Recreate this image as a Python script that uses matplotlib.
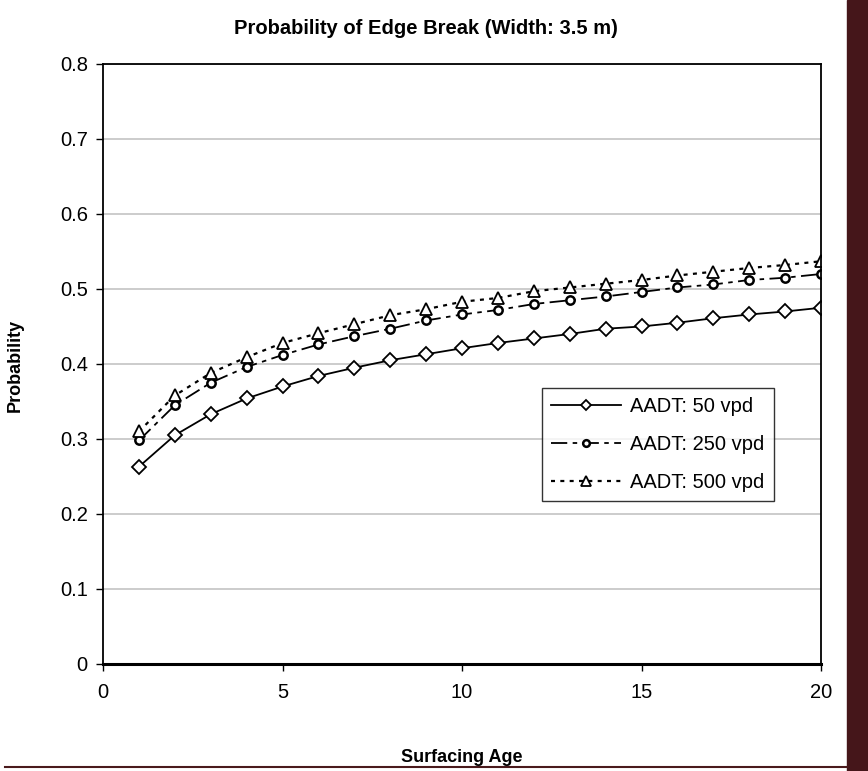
import numpy as np
import matplotlib
matplotlib.use('Agg')
import matplotlib.pyplot as plt
from matplotlib.patches import Rectangle
from matplotlib.lines import Line2D

plt.rcParams['font.family'] = ['Liberation Sans', 'DejaVu Sans']

age = list(range(1, 21))
aadt_50 = [0.263, 0.305, 0.333, 0.354, 0.370, 0.384, 0.395, 0.405, 0.413, 0.421,
           0.428, 0.434, 0.440, 0.447, 0.450, 0.455, 0.461, 0.466, 0.470, 0.475]
aadt_250 = [0.298, 0.345, 0.375, 0.396, 0.412, 0.426, 0.437, 0.447, 0.458, 0.466,
            0.472, 0.480, 0.485, 0.490, 0.496, 0.502, 0.506, 0.512, 0.515, 0.520]
aadt_500 = [0.310, 0.358, 0.388, 0.409, 0.428, 0.441, 0.453, 0.465, 0.473, 0.483,
            0.488, 0.497, 0.502, 0.507, 0.512, 0.518, 0.523, 0.528, 0.532, 0.537]
labels = ['AADT: 50 vpd', 'AADT: 250 vpd', 'AADT: 500 vpd']

fig = plt.figure(figsize=(8.68, 7.71), dpi=100)
ax = fig.add_axes([0.1187, 0.1388, 0.8272, 0.7782])

ax.plot(age, aadt_50, color='black', lw=1.3, marker='D', ms=7, mfc='white',
        mec='black', mew=1.3, label=labels[0])
ax.plot(age, aadt_250, color='black', lw=1.3, dashes=(9, 3, 2.5, 3), marker='o', ms=6,
        mfc='white', mec='black', mew=1.8, label=labels[1])
ax.plot(age, aadt_500, color='black', lw=1.6, dashes=(1.8, 2.4), marker='^', ms=9,
        mfc='white', mec='black', mew=1.3, label=labels[2])

ax.set_xlim(0, 20)
ax.set_ylim(0, 0.8)
ax.set_xticks([0, 5, 10, 15, 20])
ax.set_yticks(np.arange(0, 0.81, 0.1))
ax.set_yticklabels(['0', '0.1', '0.2', '0.3', '0.4', '0.5', '0.6', '0.7', '0.8'])
ax.yaxis.grid(True, color='#c8c8c8', lw=1.3)
ax.set_axisbelow(True)
ax.tick_params(axis='both', labelsize=14.5, length=5, width=1, direction='out')
ax.tick_params(axis='y', pad=6)
ax.tick_params(axis='x', pad=9)
for s in ax.spines.values():
    s.set_linewidth(1.3)
ax.spines['bottom'].set_linewidth(2.2)

fig.text(426 / 868, 1 - 28 / 771, 'Probability of Edge Break (Width: 3.5 m)',
         fontsize=14.5, fontweight='bold', ha='center', va='center')
fig.text(462 / 868, 1 - 757 / 771, 'Surfacing Age', fontsize=13, fontweight='bold',
         ha='center', va='center')
fig.text(15 / 868, 1 - 365 / 771, 'Probability', fontsize=13, fontweight='bold',
         ha='center', va='center', rotation=90)

leg = ax.legend(loc='upper left', bbox_to_anchor=(0.611, 0.46), fontsize=14.5, frameon=True,
                fancybox=False, edgecolor='black', handlelength=3.5, borderpad=0.45,
                labelspacing=0.95, handletextpad=0.45, borderaxespad=0, markerscale=0.8)
leg.get_frame().set_linewidth(1)

# dark strip on the right edge and bottom rule from the source image
fig.patches.append(Rectangle((847 / 868, 0), 21 / 868, 1, transform=fig.transFigure,
                             color='#45161a', zorder=0))
fig.lines.append(Line2D([5 / 868, 847 / 868], [4 / 771, 4 / 771], transform=fig.transFigure,
                        color='#4a1a1c', lw=1.5))

fig.savefig('out.png', dpi=100)
